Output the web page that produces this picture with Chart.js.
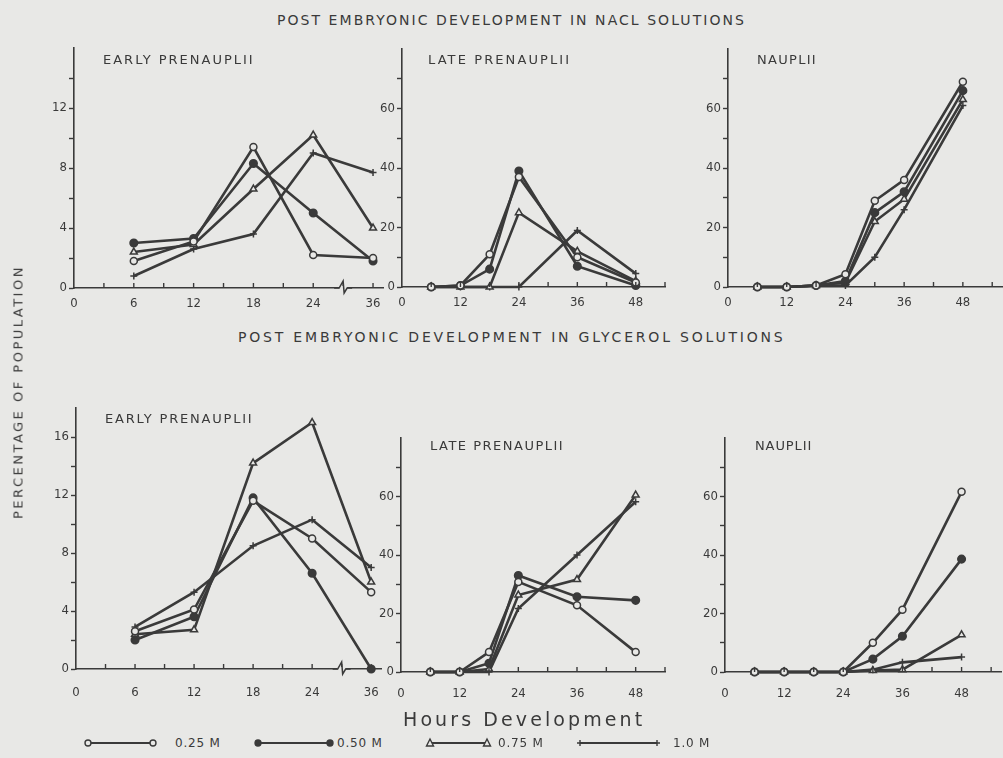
<!DOCTYPE html>
<html><head><meta charset="utf-8">
<script src="https://cdn.jsdelivr.net/npm/chart.js@4.4.1/dist/chart.umd.min.js"></script>
<style>
html,body{margin:0;padding:0;background:#e8e8e6;}
#page{position:relative;width:1003px;height:758px;overflow:hidden;background:#e8e8e6;font-family:'DejaVu Sans',sans-serif;color:#3a3a3a;}
.t{position:absolute;white-space:nowrap;line-height:1;}
canvas{position:absolute;}
</style></head><body><div id="page"></div>
<script>
// ---------------- DATA ----------------
const seriesNames = ['0.25 M', '0.50 M', '0.75 M', '1.0 M'];

const earlyHours = [6, 12, 18, 24, 36];
const lateHours = [6, 12, 18, 24, 36, 48];
const naupliiHours = [6, 12, 18, 24, 30, 36, 48];

const earlyXTickLabels = ['0', '6', '12', '18', '24', '36'];
const laterXTickLabels = ['0', '12', '24', '36', '48'];
const naclEarlyYTickLabels = [0, 4, 8, 12];
const glyEarlyYTickLabels = [0, 4, 8, 12, 16];
const percentYTickLabels = [0, 20, 40, 60];

// NaCl – early prenauplii
const naclEarly025 = [1.8, 3.1, 9.4, 2.2, 2.0];
const naclEarly050 = [3.0, 3.3, 8.3, 5.0, 1.8];
const naclEarly075 = [2.4, 2.9, 6.6, 10.2, 4.0];
const naclEarly100 = [0.8, 2.6, 3.6, 9.0, 7.7];
// NaCl – late prenauplii
const naclLate025 = [0, 0.5, 11, 37, 10, 1.5];
const naclLate050 = [0, 0.5, 6, 39, 7, 0.5];
const naclLate075 = [0, 0, 0, 25, 12, 2];
const naclLate100 = [0, 0, 0, 0, 19, 4.5];
// NaCl – nauplii
const naclNaup025 = [0, 0, 0.5, 4.3, 29, 36, 69];
const naclNaup050 = [0, 0, 0.5, 2, 25, 32, 66];
const naclNaup075 = [0, 0, 0.5, 1.5, 22, 29.5, 63];
const naclNaup100 = [0, 0, 0.5, 0.5, 10, 26, 61];
// Glycerol – early prenauplii
const glyEarly025 = [2.6, 4.1, 11.6, 9.0, 5.3];
const glyEarly050 = [2.0, 3.6, 11.8, 6.6, 0];
const glyEarly075 = [2.4, 2.7, 14.2, 17.0, 6.0];
const glyEarly100 = [2.9, 5.3, 8.5, 10.3, 7.0];
// Glycerol – late prenauplii
const glyLate025 = [0, 0, 6.8, 30.8, 22.8, 6.8];
const glyLate050 = [0, 0, 3, 33, 25.7, 24.5];
const glyLate075 = [0, 0, 1, 26.3, 31.6, 60.5];
const glyLate100 = [0, 0, 0, 21.7, 40, 58.2];
// Glycerol – nauplii
const glyNaup025 = [0, 0, 0, 0, 10, 21.3, 61.6];
const glyNaup050 = [0, 0, 0, 0, 4.4, 12.2, 38.6];
const glyNaup075 = [0, 0, 0, 0, 0.5, 0.8, 12.7];
const glyNaup100 = [0, 0, 0, 0, 0.8, 3.3, 5.1];

// ---------------- STYLE / LAYOUT ----------------
const INK = '#3a3a3a';
const BG = '#e8e8e6';
const TICK_FONT = "'Liberation Sans Narrow','DejaVu Sans Condensed','DejaVu Sans',sans-serif";
const markerStyles = [
  {pointStyle: 'circle', fill: BG, radius: 3.5},
  {pointStyle: 'circle', fill: INK, radius: 3.8},
  {pointStyle: 'triangle', fill: BG, radius: 4},
  {pointStyle: 'cross', fill: INK, radius: 3.5}
];
// broken time axis for early prenauplii: 36 h is drawn one step after 24 h
function brokenHour(h) { return h <= 24 ? h : 24 + (h - 24) / 2; }

const page = document.getElementById('page');

function addText(txt, css) {
  const d = document.createElement('div');
  d.className = 't';
  d.textContent = txt;
  Object.assign(d.style, css);
  page.appendChild(d);
  return d;
}

const axisDecor = {
  id: 'axisDecor',
  afterDraw(chart, args, opts) {
    const ctx = chart.ctx, xs = chart.scales.x, area = chart.chartArea;
    ctx.save();
    ctx.strokeStyle = INK; ctx.lineWidth = 1.4;
    xs.ticks.forEach(t => {
      const px = xs.getPixelForValue(t.value);
      if (px <= area.left + 1) return;
      ctx.beginPath(); ctx.moveTo(px, area.bottom); ctx.lineTo(px, area.bottom - 5); ctx.stroke();
    });
    if (opts.breakAt != null) {
      const bx = xs.getPixelForValue(opts.breakAt), by = area.bottom;
      ctx.fillStyle = BG;
      ctx.fillRect(bx - 4, by - 2, 8, 4);
      ctx.lineWidth = 1.5;
      ctx.beginPath();
      ctx.moveTo(bx - 9, by); ctx.lineTo(bx - 4, by);
      ctx.lineTo(bx, by - 7); ctx.lineTo(bx + 1, by + 5); ctx.lineTo(bx + 4, by);
      ctx.lineTo(bx + 9, by);
      ctx.stroke();
    }
    ctx.restore();
  }
};

function makePanel(p) {
  const padL = 50, padT = 12, padR = 12, padB = p.xAxisH;
  const W = Math.round(p.R - p.L + padL + padR);
  const H = Math.round(p.B - p.T + padT + padB);
  const cv = document.createElement('canvas');
  cv.width = W; cv.height = H;
  cv.style.left = (p.L - padL) + 'px';
  cv.style.top = (p.T - padT) + 'px';
  cv.style.width = W + 'px'; cv.style.height = H + 'px';
  page.appendChild(cv);
  const xFn = p.broken ? brokenHour : (h => h);
  const datasets = p.series.map((vals, i) => ({
    label: seriesNames[i],
    data: vals.map((v, j) => ({x: xFn(p.hours[j]), y: v})),
    borderColor: INK,
    borderWidth: 2.6,
    backgroundColor: markerStyles[i].fill,
    pointStyle: markerStyles[i].pointStyle,
    pointRadius: markerStyles[i].radius,
    pointBackgroundColor: markerStyles[i].fill,
    pointBorderColor: INK,
    pointBorderWidth: 1.5,
    tension: 0,
    clip: false
  }));
  new Chart(cv, {
    type: 'line',
    data: {datasets},
    plugins: [axisDecor],
    options: {
      responsive: false,
      animation: false,
      devicePixelRatio: 1,
      layout: {padding: {left: 0, top: padT, right: padR, bottom: 0}},
      plugins: {legend: {display: false}, tooltip: {enabled: false}, title: {display: false},
        axisDecor: {breakAt: p.broken ? 27 : null}},
      scales: {
        x: {
          type: 'linear', min: 0, max: p.xMax,
          afterFit: s => { s.height = padB; },
          afterBuildTicks: s => { const t = []; for (let v = 0; v <= p.xMax; v += p.xStep) t.push({value: v}); s.ticks = t; },
          grid: {display: true, drawOnChartArea: false, drawTicks: false},
          border: {display: true, color: INK, width: 1.6},
          ticks: {
            autoSkip: false, maxRotation: 0, padding: p.xPad, color: INK,
            font: {family: TICK_FONT, size: 13},
            callback: v => (v % p.xLabelStep === 0 ? (p.xLabels[v / p.xLabelStep] ?? '') : '')
          }
        },
        y: {
          type: 'linear', min: 0, max: p.yMax,
          afterFit: s => { s.width = padL; },
          afterBuildTicks: s => { const t = []; for (let v = 0; v <= p.yMax - p.yStep * 0.5; v += p.yStep) t.push({value: v}); s.ticks = t; },
          grid: {display: true, drawOnChartArea: false, drawTicks: true, tickLength: 5, tickColor: INK, tickWidth: 1.4},
          border: {display: true, color: INK, width: 1.6},
          ticks: {
            autoSkip: false, padding: 2, color: INK,
            font: {family: TICK_FONT, size: 13},
            callback: v => (p.yLabels.includes(v) ? String(v) : '')
          }
        }
      }
    }
  });
}

const panels = [
  {L: 74, R: 382.5, T: 47.7, B: 287.7, xMax: 31, xStep: 3, xLabelStep: 6, xLabels: earlyXTickLabels, broken: true,
   yMax: 16, yStep: 2, yLabels: naclEarlyYTickLabels, hours: earlyHours, xPad: 8, xAxisH: 30,
   series: [naclEarly025, naclEarly050, naclEarly075, naclEarly100]},
  {L: 402, R: 664.5, T: 49.3, B: 287.7, xMax: 54, xStep: 6, xLabelStep: 12, xLabels: laterXTickLabels, broken: false,
   yMax: 80, yStep: 10, yLabels: percentYTickLabels, hours: lateHours, xPad: 8, xAxisH: 30,
   series: [naclLate025, naclLate050, naclLate075, naclLate100]},
  {L: 727.5, R: 1001.5, T: 49.3, B: 287.7, xMax: 56, xStep: 6, xLabelStep: 12, xLabels: laterXTickLabels, broken: false,
   yMax: 80, yStep: 10, yLabels: percentYTickLabels, hours: naupliiHours, xPad: 8, xAxisH: 30,
   series: [naclNaup025, naclNaup050, naclNaup075, naclNaup100]},
  {L: 76, R: 383, T: 408.3, B: 669.3, xMax: 31, xStep: 3, xLabelStep: 6, xLabels: earlyXTickLabels, broken: true,
   yMax: 18, yStep: 2, yLabels: glyEarlyYTickLabels, hours: earlyHours, xPad: 16, xAxisH: 38,
   series: [glyEarly025, glyEarly050, glyEarly075, glyEarly100]},
  {L: 401, R: 666.7, T: 438, B: 671.7, xMax: 54, xStep: 6, xLabelStep: 12, xLabels: laterXTickLabels, broken: false,
   yMax: 80, yStep: 10, yLabels: percentYTickLabels, hours: lateHours, xPad: 14, xAxisH: 36,
   series: [glyLate025, glyLate050, glyLate075, glyLate100]},
  {L: 725, R: 1000.5, T: 438, B: 672.3, xMax: 56, xStep: 6, xLabelStep: 12, xLabels: laterXTickLabels, broken: false,
   yMax: 80, yStep: 10, yLabels: percentYTickLabels, hours: naupliiHours, xPad: 14, xAxisH: 36,
   series: [glyNaup025, glyNaup050, glyNaup075, glyNaup100]}
];
panels.forEach(makePanel);

// ---------------- TEXT ----------------
addText('POST EMBRYONIC DEVELOPMENT IN NACL SOLUTIONS', {left: '277px', top: '13px', fontSize: '14px', letterSpacing: '2.05px'});
addText('POST EMBRYONIC DEVELOPMENT IN GLYCEROL SOLUTIONS', {left: '238px', top: '330px', fontSize: '14px', letterSpacing: '2.8px'});
addText('EARLY PRENAUPLII', {left: '103px', top: '53px', fontSize: '13px', letterSpacing: '2.0px'});
addText('LATE PRENAUPLII', {left: '428px', top: '53px', fontSize: '13px', letterSpacing: '2.1px'});
addText('NAUPLII', {left: '757px', top: '53px', fontSize: '13px', letterSpacing: '1.3px'});
addText('EARLY PRENAUPLII', {left: '105px', top: '412px', fontSize: '13px', letterSpacing: '1.8px'});
addText('LATE PRENAUPLII', {left: '430px', top: '439px', fontSize: '13px', letterSpacing: '1.5px'});
addText('NAUPLII', {left: '755px', top: '439px', fontSize: '13px', letterSpacing: '0.9px'});
addText('Hours Development', {left: '403px', top: '710px', fontSize: '19px', letterSpacing: '3.1px'});
addText('PERCENTAGE OF POPULATION', {left: '18px', top: '392px', fontSize: '13px', letterSpacing: '2.5px',
  transform: 'translate(-50%,-50%) rotate(-90deg)'});

// legend
const legendPos = [{s: 88, e: 153, tx: 175}, {s: 258, e: 330, tx: 337}, {s: 430, e: 487, tx: 498}, {s: 580, e: 657, tx: 673}];
seriesNames.forEach((name, i) => {
  const lp = legendPos[i];
  const ns = 'http://www.w3.org/2000/svg';
  const svg = document.createElementNS(ns, 'svg');
  const w = lp.e - lp.s + 10;
  svg.setAttribute('width', w); svg.setAttribute('height', 12);
  svg.style.position = 'absolute'; svg.style.left = (lp.s - 5) + 'px'; svg.style.top = '737px';
  const line = document.createElementNS(ns, 'line');
  line.setAttribute('x1', 5); line.setAttribute('x2', w - 5); line.setAttribute('y1', 6); line.setAttribute('y2', 6);
  line.setAttribute('stroke', INK); line.setAttribute('stroke-width', 2);
  svg.appendChild(line);
  [5, w - 5].forEach(cx => {
    let m;
    if (i === 0 || i === 1) {
      m = document.createElementNS(ns, 'circle');
      m.setAttribute('cx', cx); m.setAttribute('cy', 6); m.setAttribute('r', 3);
      m.setAttribute('fill', i === 1 ? INK : BG);
    } else if (i === 2) {
      m = document.createElementNS(ns, 'polygon');
      m.setAttribute('points', `${cx},2 ${cx + 3.5},9 ${cx - 3.5},9`);
      m.setAttribute('fill', BG);
    } else {
      m = document.createElementNS(ns, 'path');
      m.setAttribute('d', `M${cx - 3},6 L${cx + 3},6 M${cx},3 L${cx},9`);
      m.setAttribute('fill', 'none');
    }
    m.setAttribute('stroke', INK); m.setAttribute('stroke-width', 1.4);
    svg.appendChild(m);
  });
  page.appendChild(svg);
  addText(name, {left: lp.tx + 'px', top: '737px', fontSize: '12px', letterSpacing: '0.8px'});
});
</script></body></html>
